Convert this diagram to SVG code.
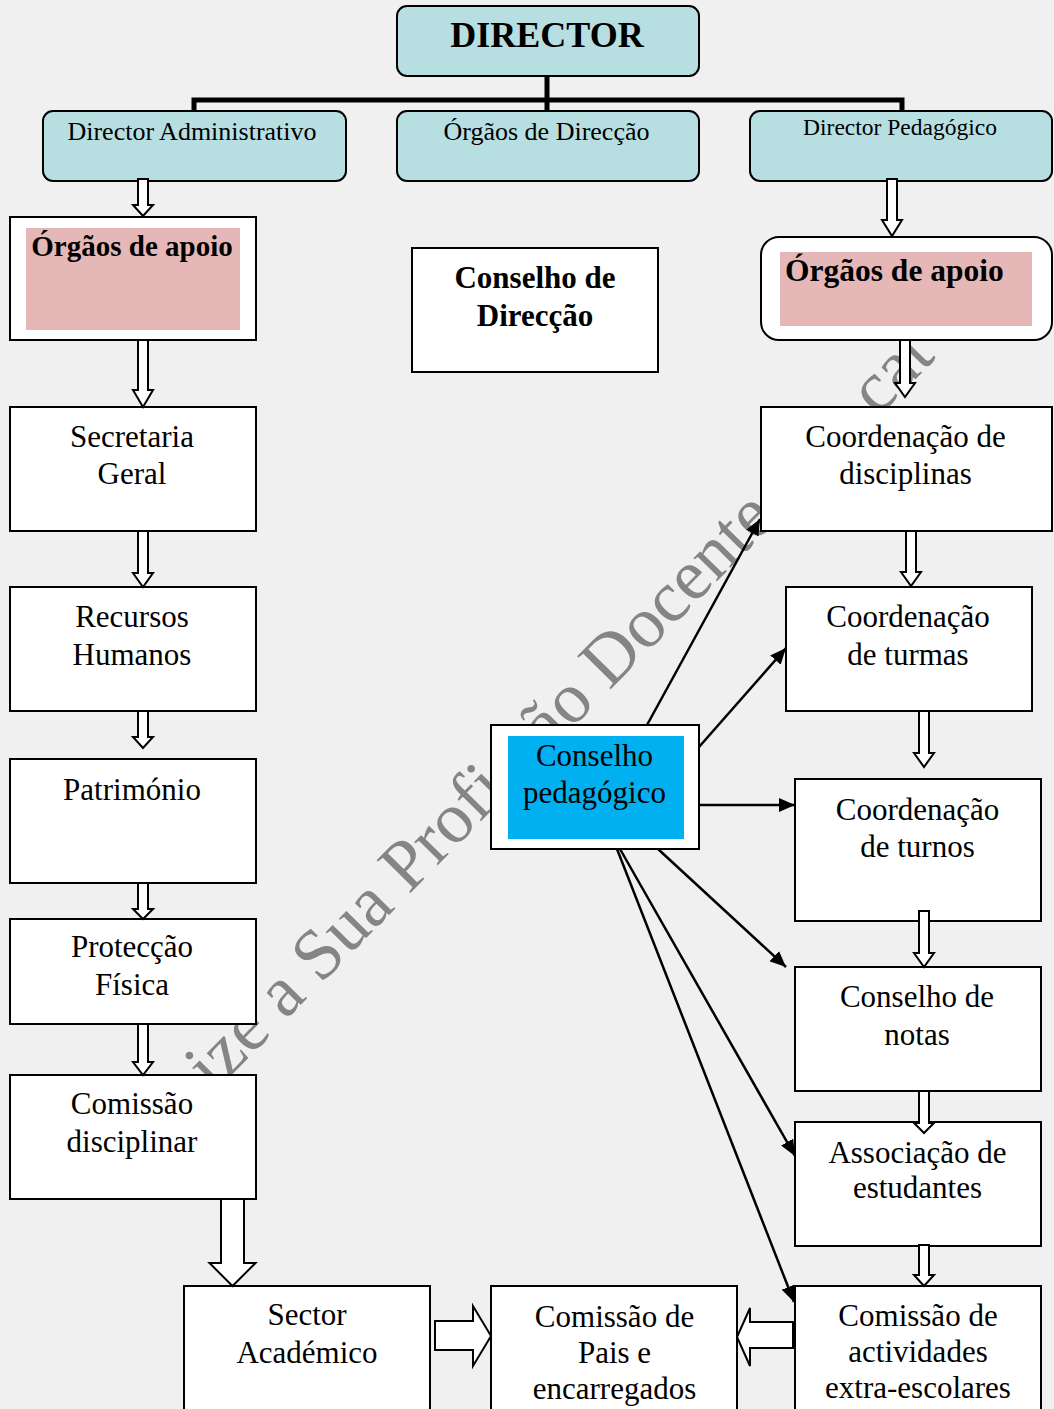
<svg xmlns="http://www.w3.org/2000/svg" width="1054" height="1409" viewBox="0 0 1054 1409">
<defs>
<style>
.bx{fill:#fff;stroke:#000;stroke-width:2}
.tl{fill:#b7dfe2;stroke:#000;stroke-width:2}
.t{font-family:"Liberation Serif","Times New Roman",serif;font-size:31px;text-anchor:middle;fill:#000}
.b{font-weight:bold}
.blk{fill:#fff;stroke:#000;stroke-width:2;stroke-linejoin:miter}
.ln{stroke:#000;stroke-width:2.5;fill:none;marker-end:url(#ah)}
.wm{font-family:"Liberation Serif","Times New Roman",serif;font-size:72px;fill:#858585}
</style>
<marker id="ah" markerUnits="userSpaceOnUse" markerWidth="16" markerHeight="14" refX="16" refY="7" orient="auto">
<path d="M0,0 L16,7 L0,14 Z" fill="#000"/>
</marker>
</defs>
<rect x="0" y="0" width="1054" height="1409" fill="#f0f0f0"/>
<g id="watermark" transform="translate(214,1093) rotate(-45.5)">
<text class="wm" x="0" y="0">ize a Sua Profissão Docente</text>
<text class="wm" x="947" y="0">cat</text>
</g>
<g id="nodes">
<g id="director"><rect class="tl" x="397" y="6" width="302" height="70" rx="10"/><text class="t b" x="547" y="47" style="font-size:36px">DIRECTOR</text></g>
<g id="dir-adm"><rect class="tl" x="43" y="111" width="303" height="70" rx="10"/><text class="t" x="192" y="140" style="font-size:26px">Director Administrativo</text></g>
<g id="org-dir"><rect class="tl" x="397" y="111" width="302" height="70" rx="10"/><text class="t" x="546.5" y="140" style="font-size:26px">Órgãos de Direcção</text></g>
<g id="dir-ped"><rect class="tl" x="750" y="111" width="302" height="70" rx="10"/><text class="t" x="900" y="135" style="font-size:23.5px">Director Pedagógico</text></g>
<g id="apoio-adm"><rect class="bx" x="10" y="217" width="246" height="123"/><rect x="26" y="228" width="214" height="102" fill="#e5b8b7"/><text class="t b" x="132" y="256" style="font-size:29px">Órgãos de apoio</text></g>
<g id="cons-dir"><rect class="bx" x="412" y="248" width="246" height="124"/><text class="t b" x="535" y="288">Conselho de</text><text class="t b" x="535" y="326">Direcção</text></g>
<g id="apoio-ped"><rect class="bx" x="761" y="237" width="291" height="103" rx="18"/><rect x="780" y="252" width="252" height="74" fill="#e5b8b7"/><text class="t b" x="785" y="281" style="font-size:31.5px;text-anchor:start">Órgãos de apoio</text></g>
<g id="secretaria"><rect class="bx" x="10" y="407" width="246" height="124"/><text class="t" x="132" y="447">Secretaria</text><text class="t" x="132" y="484">Geral</text></g>
<g id="recursos"><rect class="bx" x="10" y="587" width="246" height="124"/><text class="t" x="132" y="627">Recursos</text><text class="t" x="132" y="665">Humanos</text></g>
<g id="patrimonio"><rect class="bx" x="10" y="759" width="246" height="124"/><text class="t" x="132" y="800">Património</text></g>
<g id="proteccao"><rect class="bx" x="10" y="919" width="246" height="105"/><text class="t" x="132" y="957">Protecção</text><text class="t" x="132" y="995">Física</text></g>
<g id="com-disc"><rect class="bx" x="10" y="1075" width="246" height="124"/><text class="t" x="132" y="1114">Comissão</text><text class="t" x="132" y="1152">disciplinar</text></g>
<g id="sector"><rect class="bx" x="184" y="1286" width="246" height="140"/><text class="t" x="307" y="1325">Sector</text><text class="t" x="307" y="1363">Académico</text></g>
<g id="com-pais"><rect class="bx" x="491" y="1286" width="246" height="140"/><text class="t" x="614.5" y="1327">Comissão de</text><text class="t" x="614.5" y="1363">Pais e</text><text class="t" x="614.5" y="1399">encarregados</text></g>
<g id="cons-ped"><rect class="bx" x="491" y="725" width="208" height="124"/><rect x="508" y="736" width="176" height="103" fill="#00b0f0"/><text class="t" x="594.5" y="766">Conselho</text><text class="t" x="594.5" y="803">pedagógico</text></g>
<g id="coord-disc"><rect class="bx" x="761" y="407" width="291" height="124"/><text class="t" x="905.5" y="447">Coordenação de</text><text class="t" x="905.5" y="484">disciplinas</text></g>
<g id="coord-turmas"><rect class="bx" x="786" y="587" width="246" height="124"/><text class="t" x="908" y="627">Coordenação</text><text class="t" x="908" y="665">de turmas</text></g>
<g id="coord-turnos"><rect class="bx" x="795" y="779" width="246" height="142"/><text class="t" x="917.5" y="820">Coordenação</text><text class="t" x="917.5" y="857">de turnos</text></g>
<g id="cons-notas"><rect class="bx" x="795" y="967" width="246" height="124"/><text class="t" x="917" y="1007">Conselho de</text><text class="t" x="917" y="1045">notas</text></g>
<g id="assoc"><rect class="bx" x="795" y="1122" width="246" height="124"/><text class="t" x="917.5" y="1163">Associação de</text><text class="t" x="917.5" y="1198">estudantes</text></g>
<g id="com-act"><rect class="bx" x="795" y="1286" width="246" height="140"/><text class="t" x="918" y="1326">Comissão de</text><text class="t" x="918" y="1362">actividades</text><text class="t" x="918" y="1398">extra-escolares</text></g>
</g>
<g id="connectors">
<path d="M547,76 V100 M194,112 V100 H902 V112 M547,100 V112" fill="none" stroke="#000" stroke-width="5"/>
<path class="blk" d="M138,179 H148 V205 H153 L143,216 L133,205 H138 Z"/>
<path class="blk" d="M138,340 H148 V390 H153 L143,407 L133,390 H138 Z"/>
<path class="blk" d="M138,531 H148 V573 H153 L143,587 L133,573 H138 Z"/>
<path class="blk" d="M138,711 H148 V737 H153 L143,748 L133,737 H138 Z"/>
<path class="blk" d="M138,883 H148 V909 H153 L143,919 L133,909 H138 Z"/>
<path class="blk" d="M138,1024 H148 V1062 H153 L143,1075 L133,1062 H138 Z"/>
<path class="blk" d="M221,1199 H244 V1263 H255.5 L232.5,1286 L209.5,1263 H221 Z"/>
<path class="blk" d="M887,179 H897 V220 H902 L892,236 L882,220 H887 Z"/>
<path class="blk" d="M900,340 H910 V383 H915 L905,397 L895,383 H900 Z"/>
<path class="blk" d="M906,531 H916 V572 H921 L911,586 L901,572 H906 Z"/>
<path class="blk" d="M919,711 H929 V753 H934 L924,767 L914,753 H919 Z"/>
<path class="blk" d="M919,911 H929 V953 H934 L924,967 L914,953 H919 Z"/>
<path class="blk" d="M919,1091 H929 V1123 H934 L924,1133 L914,1123 H919 Z"/>
<path class="blk" d="M919,1245 H929 V1275 H934 L924,1286 L914,1275 H919 Z"/>
<path class="blk" d="M435,1321 H473 V1306 L491,1336 L473,1366 V1350 H435 Z"/>
<path class="blk" d="M793,1322 H750 V1308 L737,1337 L750,1366 V1348 H793 Z"/>
<line class="ln" x1="647" y1="725" x2="760" y2="519"/>
<line class="ln" x1="699" y1="747" x2="786" y2="648"/>
<line class="ln" x1="699" y1="805" x2="795" y2="805"/>
<line class="ln" x1="658" y1="849" x2="786" y2="967"/>
<line class="ln" x1="620" y1="849" x2="795" y2="1156"/>
<line class="ln" x1="617" y1="849" x2="794" y2="1302"/>
</g>
</svg>
